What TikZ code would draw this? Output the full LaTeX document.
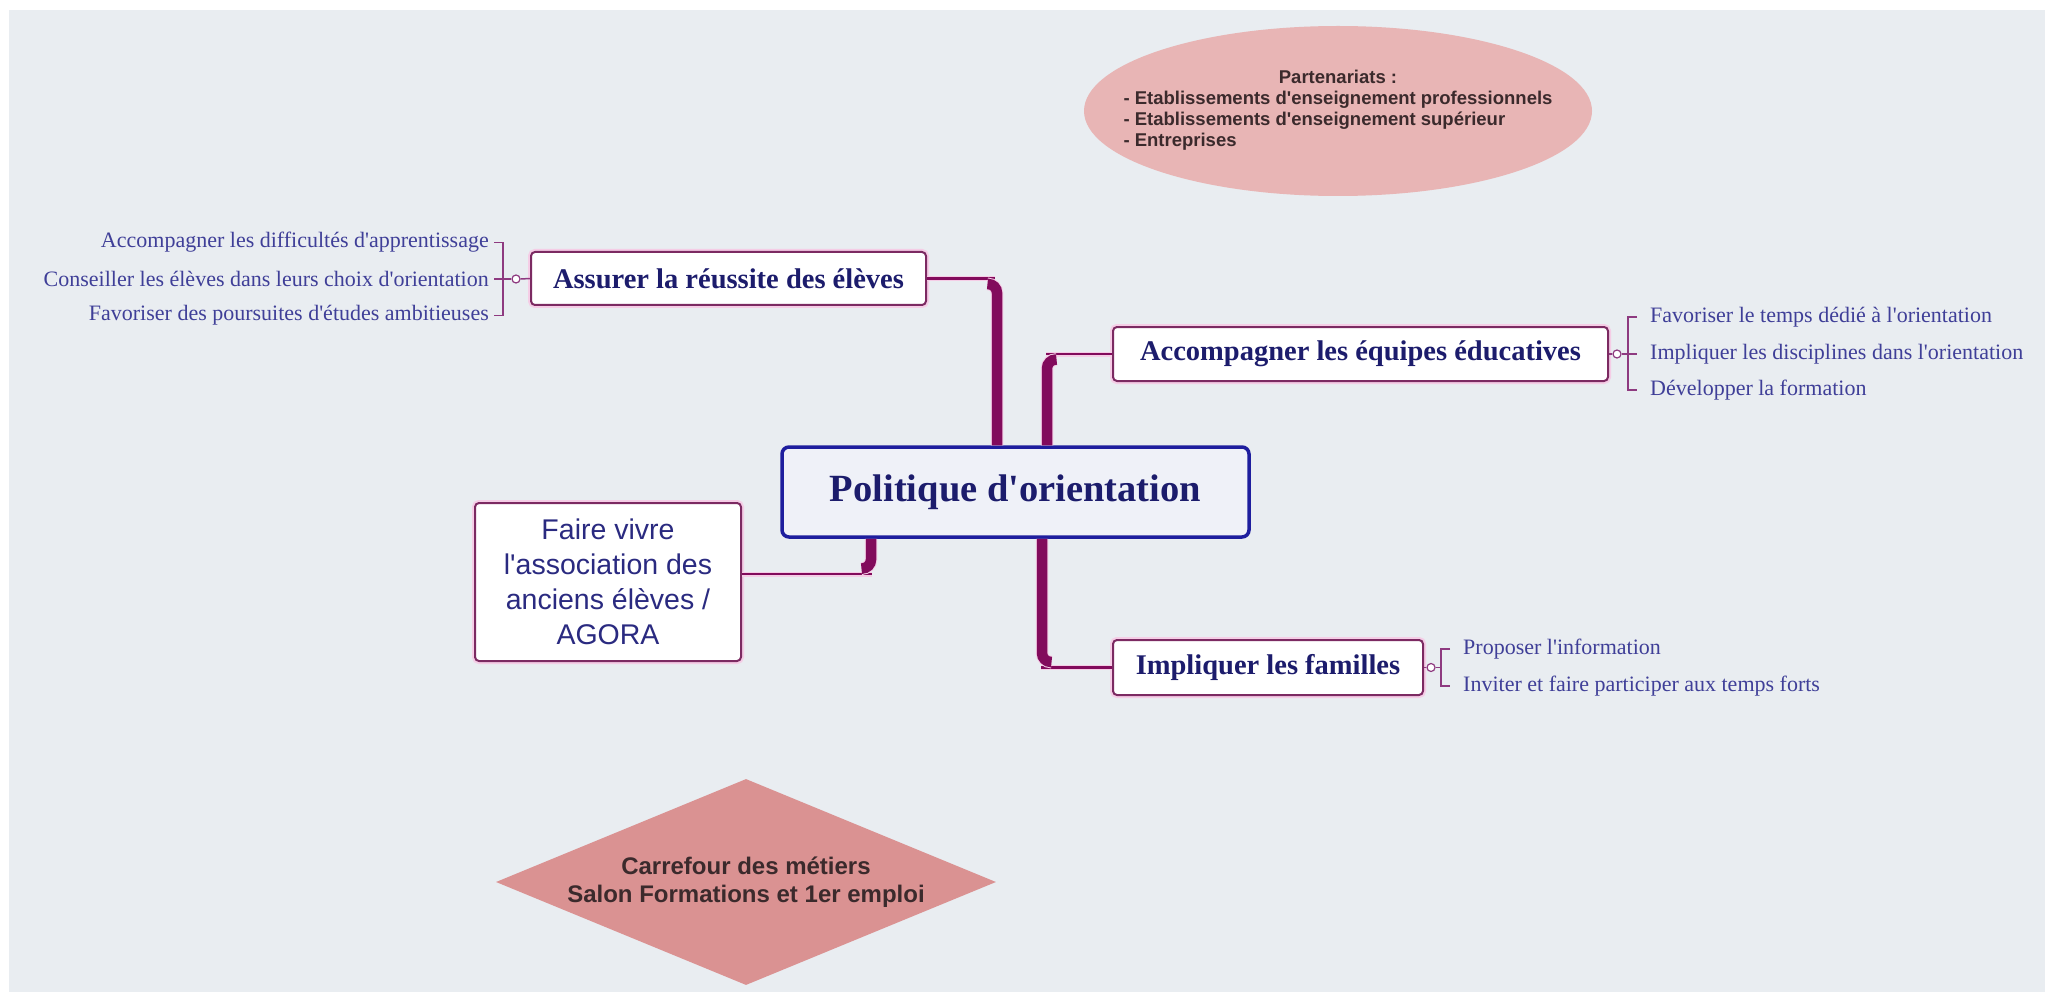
\documentclass[tikz,border=0pt]{standalone}
\usepackage{fontspec}
\setmainfont{Liberation Serif}
\newfontfamily\serfont{Liberation Serif}
\newfontfamily\arialf{Liberation Sans}
\usetikzlibrary{shapes.geometric,calc}
\definecolor{bgc}{HTML}{E9EDF1}
\definecolor{conc}{HTML}{820B5C}
\definecolor{glowc}{HTML}{F5CDE6}
\definecolor{boxc}{HTML}{7C2A62}
\definecolor{brkc}{HTML}{8E3A80}
\definecolor{polc}{HTML}{1E1E9E}
\definecolor{polfill}{HTML}{EFF1F8}
\definecolor{navyc}{HTML}{1C1C6C}
\definecolor{navyd}{HTML}{2A2A80}
\definecolor{subc}{HTML}{3F3F98}
\definecolor{ellc}{HTML}{E8B5B5}
\definecolor{diac}{HTML}{DA9292}
\definecolor{pinktext}{HTML}{3B2A2C}
\begin{document}
\begin{tikzpicture}[x=1pt,y=-1pt,
  mainbox/.style={draw=polc, line width=3.5, fill=polfill, rounded corners=7,
    text=navyc, font=\serfont\fontsize{38.5}{44}\selectfont\bfseries, inner sep=0},
  childbox/.style={draw=boxc, line width=2, fill=white, rounded corners=4,
    preaction={draw=glowc, line width=6},
    text=navyc, font=\serfont\fontsize{28.5}{34}\selectfont\bfseries, inner sep=0},
  subitem/.style={text=subc, font=\serfont\fontsize{22}{26}\selectfont, inner sep=0},
  thinc/.style={draw=conc, line width=2.5, preaction={draw=glowc, line width=5}},
  thickc/.style={draw=conc, line width=10.5, rounded corners=9,
    preaction={draw=glowc, line width=12.5}},
  brk/.style={draw=brkc, line width=1.5},
  knob/.style={circle, draw=brkc, line width=1.2, fill=white, minimum size=8, inner sep=0}
]
\useasboundingbox (0,0) rectangle (2045,992);
\fill[white] (0,0) rectangle (2045,992);
\fill[bgc] (9,10) rectangle (2045,992);

% partner ellipse
\node[ellipse, fill=ellc, minimum width=508, minimum height=170, inner xsep=-40, inner ysep=0,
  text=pinktext, font=\arialf\bfseries\fontsize{18.5}{21}\selectfont] (E) at (1338,111)
  {\begin{tabular}{@{}l@{}}\multicolumn{1}{@{}c@{}}{Partenariats :}\\
   - Etablissements d'enseignement professionnels\\
   - Etablissements d'enseignement supérieur\\
   - Entreprises\end{tabular}};

% diamond
\node[diamond, aspect=2.42, fill=diac, minimum width=500, minimum height=206, inner sep=0,
  align=center, text=pinktext, font=\arialf\bfseries\fontsize{24}{28}\selectfont] (K) at (746,882)
  {Carrefour des métiers\\Salon Formations et 1er emploi};

% main nodes
\node[mainbox, minimum width=467, minimum height=90] (P) at (1015.5,492) {Politique d'orientation};
\node[childbox, minimum width=395, minimum height=53] (A) at (728.5,278.5) {Assurer la réussite des élèves};
\node[childbox, minimum width=495, minimum height=54] (B) at (1360.5,354) {Accompagner les équipes éducatives};
\node[childbox, minimum width=310, minimum height=55] (C) at (1268,667.5) {Impliquer les familles};
\node[childbox, minimum width=266, minimum height=158, align=center, text=navyd,
  font=\arialf\fontsize{28.5}{35}\selectfont] (D) at (608,582)
  {Faire vivre\\l'association des\\anciens élèves /\\AGORA};

% connectors
\coordinate (vA) at (997,0);
\coordinate (vB) at (1047,0);
\coordinate (vC) at (1042,0);
\coordinate (vD) at (871,0);
\draw[thinc] (A.east) -- ++(68,0);
\draw[thickc] (P.north -| vA) |- ($(A.east)+(62,5.5)$);
\draw[thinc] (B.west) -- ++(-66,0);
\draw[thickc] (P.north -| vB) |- ($(B.west)+(-57,5.5)$);
\draw[thinc] (C.west) -- ++(-71,0);
\draw[thickc] (P.south -| vC) |- ($(C.west)+(-62,-5.5)$);
\draw[thinc] ($(D.east)+(0,-8)$) -- ++(130,0);
\draw[thickc] (P.south -| vD) |- ($(D.east)+(121,-13.5)$);

% left sub-items
\node[subitem, anchor=east] (a1) at (489,242.5) {Accompagner les difficultés d'apprentissage};
\node[subitem, anchor=east] (a2) at (489,279) {Conseiller les élèves dans leurs choix d'orientation};
\node[subitem, anchor=east] (a3) at (489,315.5) {Favoriser des poursuites d'études ambitieuses};
\node[knob] (ka) at (516,279) {};
\draw[brk] ($(a1.east)+(5,0)$) -- ++(9,0) |- ($(a3.east)+(5,0)$);
\draw[brk] ($(a2.east)+(5,0)$) -- (ka.west);
\draw[brk] (ka.east) -- (A.west);

% right sub-items (B)
\node[subitem, anchor=west] (b1) at (1650,317) {Favoriser le temps dédié à l'orientation};
\node[subitem, anchor=west] (b2) at (1650,354) {Impliquer les disciplines dans l'orientation};
\node[subitem, anchor=west] (b3) at (1650,390) {Développer la formation};
\node[knob] (kb) at (1617,354) {};
\draw[brk] (B.east) -- (kb.west);
\draw[brk] (kb.east) -- ($(b2.west)+(-13,0)$);
\draw[brk] ($(b1.west)+(-13,0)$) -- ++(-9,0) |- ($(b3.west)+(-13,0)$);
\draw[brk] ($(b2.west)+(-22,0)$) -- ++(9,0);

% right sub-items (C)
\node[subitem, anchor=west] (c1) at (1463,649) {Proposer l'information};
\node[subitem, anchor=west] (c2) at (1463,686) {Inviter et faire participer aux temps forts};
\node[knob] (kc) at (1431,667.5) {};
\draw[brk] (C.east) -- (kc.west);
\draw[brk] (kc.east) -- ++(5,0);
\draw[brk] ($(c1.west)+(-13,0)$) -- ++(-9,0) |- ($(c2.west)+(-13,0)$);
\end{tikzpicture}
\end{document}
